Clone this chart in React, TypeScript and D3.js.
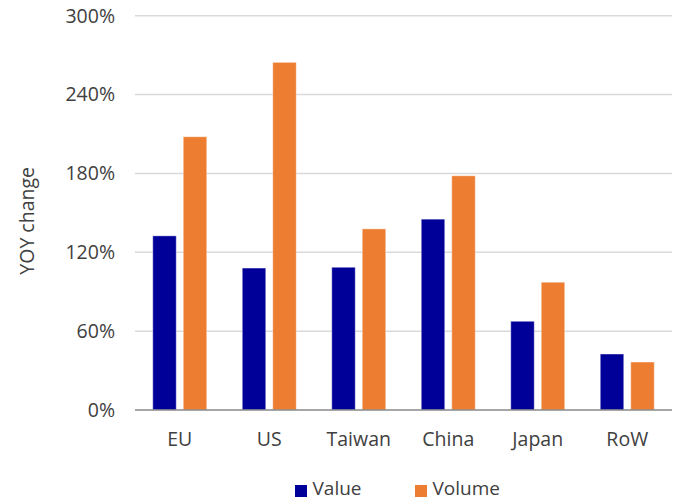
import React from "react";
import * as d3 from "d3";

const categories = ["EU", "US", "Taiwan", "China", "Japan", "RoW"];
const seriesNames = ["Value", "Volume"];
const valueSeries = [132.5, 108, 108.6, 145.2, 67.5, 42.6];
const volumeSeries = [207.9, 264.5, 137.8, 178.2, 97.2, 36.5];
const yTicks = [0, 60, 120, 180, 240, 300];
const colors = ["#000099", "#ED7D31"];

const W = 675;
const H = 500;
const left = 135;
const right = 672;
const top = 15.7;
const bottom = 410;
const font = "'Open Sans', 'Noto Sans', sans-serif";

export default function App() {
  const x0 = d3.scaleBand<string>().domain(categories).range([left, right]).paddingInner(0.397).paddingOuter(0.1985);
  const x1 = d3.scaleBand<string>().domain(seriesNames).range([0, x0.bandwidth()]).paddingInner(0.23);
  const y = d3.scaleLinear().domain([0, 300]).range([bottom, top]);
  const series = [valueSeries, volumeSeries];

  return (
    <svg width={W} height={H} style={{ position: "absolute", left: 0, top: 0 }} fontFamily={font}>
      <rect width={W} height={H} fill="#fff" />
      {yTicks.map((t) => (
        <g key={t}>
          {t !== 0 && <line x1={left} x2={right} y1={y(t)} y2={y(t)} stroke="#d9d9d9" strokeWidth={1.5} />}
          <text x={115} y={y(t)} dy="0.35em" textAnchor="end" fontSize={19.5} fill="#404040">
            {t}%
          </text>
        </g>
      ))}
      {categories.map((c, i) => (
        <g key={c}>
          {series.map((s, j) => (
            <rect
              key={j}
              x={(x0(c) as number) + (x1(seriesNames[j]) as number)}
              y={y(s[i])}
              width={x1.bandwidth()}
              height={bottom - y(s[i])}
              fill={colors[j]}
              stroke="#ffffff"
              strokeOpacity={0.4}
              strokeWidth={1}
            />
          ))}
          <text x={(x0(c) as number) + x0.bandwidth() / 2} y={446} textAnchor="middle" fontSize={19.5} fill="#404040">
            {c}
          </text>
        </g>
      ))}
      <line x1={left} x2={right} y1={bottom} y2={bottom} stroke="#898989" strokeWidth={1.5} />
      <text transform={`translate(34,${(top + bottom) / 2 + 8}) rotate(-90)`} textAnchor="middle" fontSize={19.5} fill="#404040">
        YOY change
      </text>
      {seriesNames.map((n, j) => {
        const lx = j === 0 ? 295 : 415;
        return (
          <g key={n}>
            <rect x={lx} y={485} width={12} height={12} fill={colors[j]} />
            <text x={lx + 17.5} y={495} fontSize={19} fill="#404040">
              {n}
            </text>
          </g>
        );
      })}
    </svg>
  );
}
